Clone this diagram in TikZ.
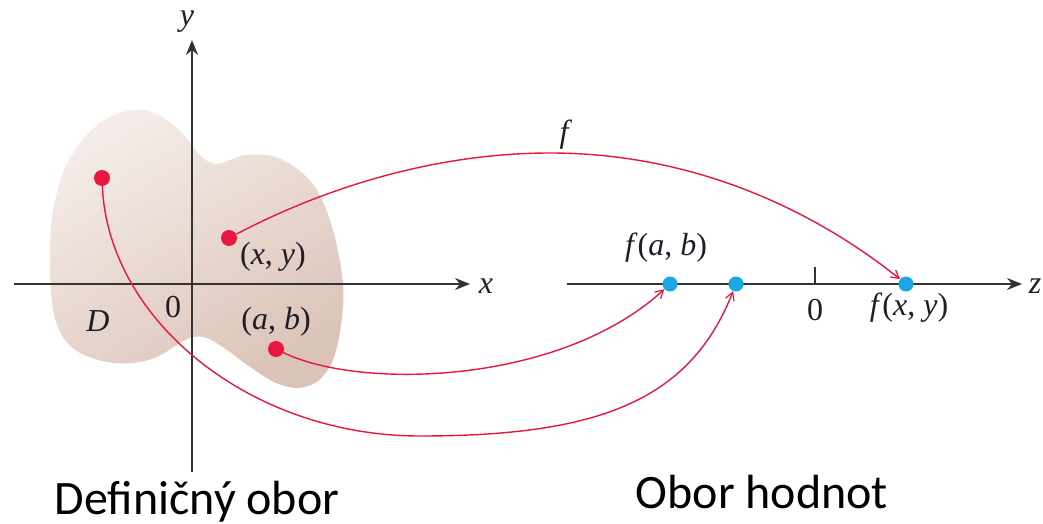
\documentclass[tikz,border=0pt]{standalone}
\usepackage{fontspec}
\setmainfont{Liberation Serif}
\newfontfamily\labfont{Liberation Serif}
\newfontfamily\calfont{Carlito}
\usetikzlibrary{arrows.meta}
\definecolor{rd}{HTML}{E8173F}
\definecolor{bl}{HTML}{1BA7E3}
\definecolor{ax}{HTML}{333333}
\definecolor{txt}{HTML}{1E1E2A}
\definecolor{blobA}{HTML}{F4ECE8}
\definecolor{blobB}{HTML}{DCC3B7}
\begin{document}
\begin{tikzpicture}[x=1pt,y=-1pt,
  axis/.style={draw=ax,line width=2pt,-{Stealth[length=15pt,width=12pt,inset=5pt]}},
  map/.style={draw=rd,line width=1.4pt,-{Straight Barb[length=8pt,width=9pt,line width=1.2pt]}},
  rdot/.style={circle,fill=rd,inner sep=0pt,minimum size=16pt},
  bdot/.style={circle,fill=bl,inner sep=0pt,minimum size=15pt},
  lbl/.style={font=\labfont\fontsize{32}{32}\selectfont,text=txt,inner sep=0pt},
  big/.style={font=\calfont\fontsize{48}{48}\selectfont,text=black,inner sep=0pt,anchor=base}]
\useasboundingbox (0,0) rectangle (1043,524);
% domain blob
\shade[top color=blobA,bottom color=blobB,shading angle=30]
  plot[smooth cycle,tension=0.55] coordinates {
  (145,110) (167,120) (182,133) (193,147) (203,158) (216,164) (230,160) (245,155)
  (272,156) (296,168) (317,190) (333,230) (343,283) (341,325) (333,360)
  (318,381) (298,388) (276,383) (250,367) (227,350) (207,338) (193,337)
  (180,343) (157,357) (133,363) (107,362) (80,353) (63,337) (53,310)
  (50,267) (52,217) (63,173) (80,143) (100,123) (123,112)};
% axes
\coordinate (xl) at (14,284);
\coordinate (xr) at (470,284);
\coordinate (yb) at (192,472);
\coordinate (yt) at (192,40);
\coordinate (zl) at (567,284);
\coordinate (zr) at (1022,284);
\coordinate (tk0) at (815,284);
\coordinate (tk1) at (815,267);
\draw[axis] (xl) -- (xr);
\draw[axis] (yb) -- (yt);
\draw[axis] (zl) -- (zr);
\draw[draw=ax,line width=1.6pt] (tk0) -- (tk1);
% labels
\node[lbl] (ly) at (187,22) {\textit{y}};
\node[lbl] (lx) at (486,286) {\textit{x}};
\node[lbl] (lz) at (1035,286) {\textit{z}};
\node[lbl] (lf) at (566,135) {\textit{f}};
\node[lbl] (lD) at (98,321) {\textit{D}};
\node[lbl] (l0a) at (173,307) {0};
\node[lbl] (lxy) at (273,257) {(\textit{x}, \textit{y})};
\node[lbl] (lab) at (276,322) {(\textit{a}, \textit{b})};
\node[lbl] (lfab) at (666,248) {\textit{f}(\textit{a}, \textit{b})};
\node[lbl] (l0b) at (815,310) {0};
\node[lbl] (lfxy) at (909,308) {\textit{f}(\textit{x}, \textit{y})};
% points
\node[rdot] (p1) at (102,178) {};
\node[rdot] (pxy) at (229,238) {};
\node[rdot] (pab) at (276,349) {};
\node[bdot] (qab) at (670,284) {};
\node[bdot] (q1) at (736,284) {};
\node[bdot] (qxy) at (906,284) {};
% mapping curves
\coordinate (c1) at (550,153);
\coordinate (c2) at (420,436);
\draw[map] (pxy) .. controls (330,185) and (440,153) .. (c1)
  .. controls (700,153) and (820,215) .. (qxy);
\draw[map] (pab) .. controls (360,390) and (560,385) .. (qab);
\draw[map] (p1) .. controls (108,320) and (250,436) .. (c2)
  .. controls (600,436) and (690,400) .. (q1);
% captions
\node[big] (cap1) at (197,514) {Definičný obor};
\node[big] (cap2) at (762,508) {Obor hodnot};
\end{tikzpicture}
\end{document}
